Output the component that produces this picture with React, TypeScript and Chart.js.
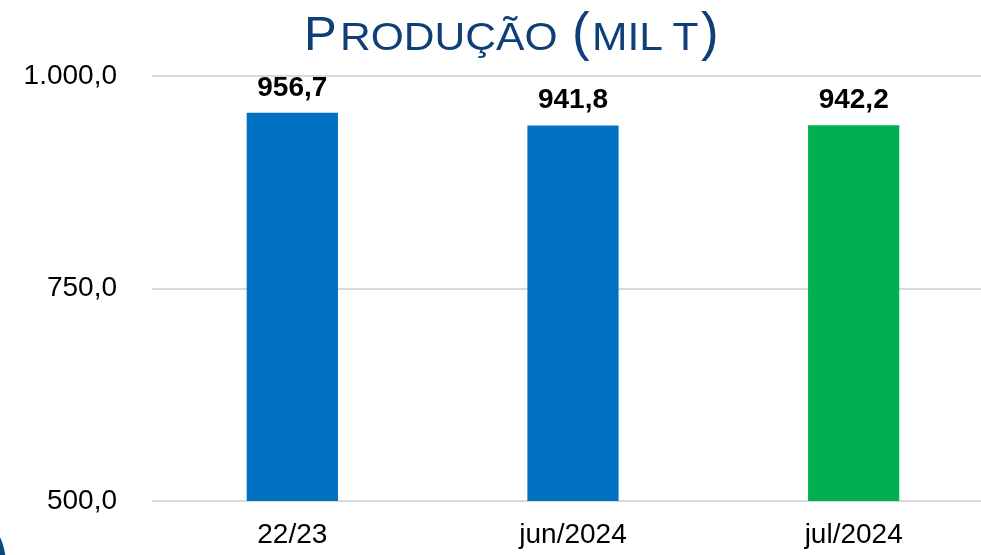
import React, { useEffect, useRef } from "react";
import { Chart, registerables } from "chart.js";

Chart.register(...registerables);

const categories = ["22/23", "jun/2024", "jul/2024"];
const production = [956.7, 941.8, 942.2];
const barColors = ["#0070C0", "#0070C0", "#00B050"];
const yTicks = [500, 750, 1000];

function fmtBR(v: number): string {
  const fixed = v.toFixed(1);
  const [intPart, dec] = fixed.split(".");
  const withDots = intPart.replace(/\B(?=(\d{3})+(?!\d))/g, ".");
  return withDots + "," + dec;
}

const dataLabelPlugin = {
  id: "dataLabels",
  afterDatasetsDraw(chart: any) {
    const ctx = chart.ctx;
    const meta = chart.getDatasetMeta(0);
    ctx.save();
    ctx.font = "bold 28px 'Liberation Sans', Arial, sans-serif";
    ctx.fillStyle = "#000000";
    ctx.textAlign = "center";
    ctx.textBaseline = "alphabetic";
    meta.data.forEach((bar: any, i: number) => {
      ctx.fillText(fmtBR(production[i]), bar.x, bar.y - 17);
    });
    ctx.restore();
  },
};

const titleFont = "'Liberation Sans', Arial, sans-serif";
const BASE = 50;

function part(text: string, left: number, size: number, stretch = 1) {
  return (
    <span
      style={{
        position: "absolute",
        left,
        top: BASE - 0.8465 * size,
        fontSize: size,
        lineHeight: `${size}px`,
        whiteSpace: "pre",
        transform: stretch !== 1 ? `scaleX(${stretch})` : undefined,
        transformOrigin: "left center",
      }}
    >
      {text}
    </span>
  );
}

export default function App() {
  const canvasRef = useRef<HTMLCanvasElement | null>(null);

  useEffect(() => {
    document.body.style.margin = "0";
    const canvas = canvasRef.current;
    if (!canvas) return;
    const chart = new Chart(canvas, {
      type: "bar",
      data: {
        labels: categories,
        datasets: [
          {
            data: production,
            backgroundColor: barColors,
            borderWidth: 0,
            barPercentage: 0.325,
            categoryPercentage: 1,
          },
        ],
      },
      options: {
        animation: false,
        responsive: false,
        devicePixelRatio: 1,
        layout: { padding: { top: 76, left: 0, right: 0, bottom: 0 } },
        plugins: {
          legend: { display: false },
          tooltip: { enabled: false },
          title: { display: false },
        },
        scales: {
          x: {
            grid: { display: false, drawTicks: false },
            border: { display: false },
            ticks: {
              color: "#000000",
              padding: 17,
              font: { family: "'Liberation Sans', Arial, sans-serif", size: 28 },
            },
            afterFit: (scale: any) => {
              scale.height = 54;
            },
          },
          y: {
            min: 500,
            max: 1000,
            afterBuildTicks: (scale: any) => {
              scale.ticks = yTicks.map((v) => ({ value: v }));
            },
            grid: { color: "#d9d9d9", lineWidth: 2, drawTicks: false },
            border: { display: false },
            ticks: {
              color: "#000000",
              padding: 35,
              font: { family: "'Liberation Sans', Arial, sans-serif", size: 28 },
              callback: (v: any) => fmtBR(Number(v)),
            },
            afterFit: (scale: any) => {
              scale.width = 152;
            },
          },
        },
      },
      plugins: [dataLabelPlugin],
    });
    return () => chart.destroy();
  }, []);

  return (
    <div
      style={{
        position: "relative",
        width: 981,
        height: 555,
        overflow: "hidden",
        background: "#ffffff",
      }}
    >
      <div style={{ position: "absolute", left: 0, top: 0, width: 994, height: 555 }}>
        <canvas ref={canvasRef} width={994} height={555} style={{ display: "block" }} />
      </div>
      <div
        style={{
          position: "absolute",
          left: 0,
          top: 0,
          width: 981,
          height: 70,
          fontFamily: titleFont,
          color: "#0E3F78",
        }}
      >
        {part("P", 304, 49)}
        {part("RODUÇÃO", 340, 38, 1.12)}
        {part("(", 572, 53)}
        {part("MIL T", 592, 38, 1.12)}
        {part(")", 701, 53)}
      </div>
      <div
        style={{
          position: "absolute",
          left: -126,
          top: 499,
          width: 116,
          height: 116,
          borderRadius: "50%",
          border: "8px solid #0B4A80",
        }}
      />
    </div>
  );
}
